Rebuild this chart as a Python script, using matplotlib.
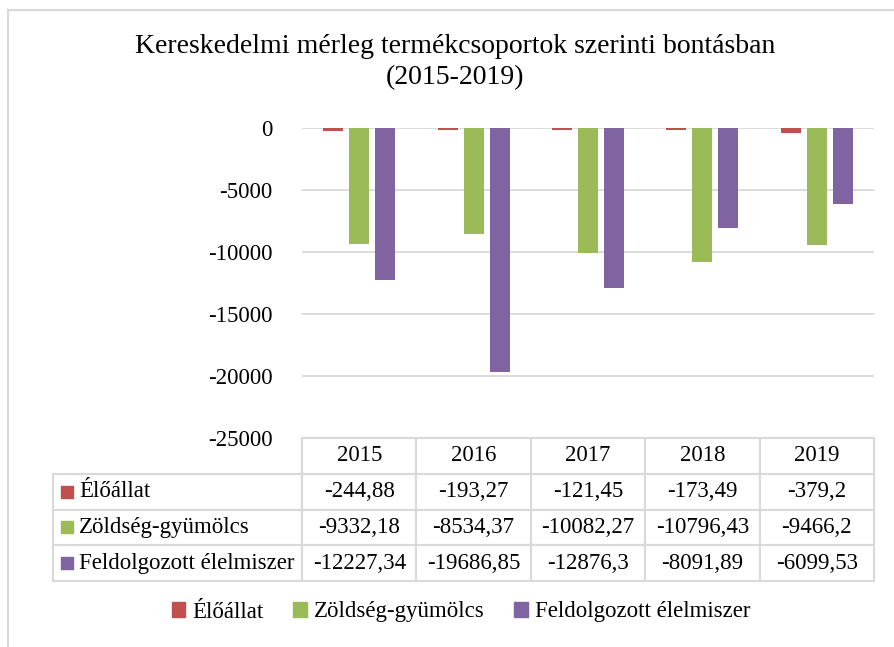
import numpy as np
import matplotlib
matplotlib.use('Agg')
import matplotlib.pyplot as plt
from matplotlib.table import Table
from matplotlib.patches import Rectangle

plt.rcParams['font.family'] = ['Liberation Serif', 'DejaVu Serif']
plt.rcParams['axes.unicode_minus'] = False

years = ['2015', '2016', '2017', '2018', '2019']
series = ['Élőállat', 'Zöldség-gyümölcs', 'Feldolgozott élelmiszer']
elo = [-244.88, -193.27, -121.45, -173.49, -379.2]
zold = [-9332.18, -8534.37, -10082.27, -10796.43, -9466.2]
feld = [-12227.34, -19686.85, -12876.3, -8091.89, -6099.53]
colors = ['#C0504D', '#9BBB59', '#8064A2']

W, H = 895, 647
fig = plt.figure(figsize=(W / 100, H / 100), dpi=100)

def box(x0, y0, x1, y1):
    # pixel box (top-left origin) -> figure fraction rect
    return [x0 / W, 1 - y1 / H, (x1 - x0) / W, (y1 - y0) / H]

# chart border
fig.patches.append(Rectangle((8 / W, -0.1), 1.2, 1 - 10 / H + 0.1,
                             transform=fig.transFigure, fill=False,
                             edgecolor='#D9D9D9', lw=1.5))

fig.text(455 / W, 1 - 62 / H, 'Kereskedelmi mérleg termékcsoportok szerinti bontásban\n(2015-2019)',
         ha='center', va='center', fontsize=20, linespacing=1.35)

ax = fig.add_axes(box(302, 128, 874, 438))
x = np.arange(len(years))
bw = 0.175
off = 0.227
for i, (vals, c) in enumerate(zip([elo, zold, feld], colors)):
    ax.bar(x + (i - 1) * off, vals, bw, color=c, zorder=3)
ax.set_xlim(-0.5, len(years) - 0.5)
ax.set_ylim(-25000, 0)
ax.set_yticks(np.arange(-25000, 1, 5000))
ax.yaxis.grid(True, color='#D9D9D9', lw=1.3, zorder=0)
ax.set_xticks([])
ax.tick_params(axis='y', length=0, labelsize=16.5, pad=21)
for s in ax.spines.values():
    s.set_visible(False)

# data table
tax = fig.add_axes(box(53, 438, 874, 581))
tax.set_axis_off()
tax.set_xlim(0, 1)
tax.set_ylim(0, 1)
tbl = Table(tax, bbox=None)
lw_ = 249 / 821
cw = (1 - lw_) / len(years)
rh = 0.25
for j, yr in enumerate(years):
    c = tbl.add_cell(0, j + 1, width=cw, height=rh, text=yr, loc='center')
    c.set_edgecolor('#D9D9D9')
    c.set_linewidth(1.5)
for i, (name, vals) in enumerate(zip(series, [elo, zold, feld])):
    c = tbl.add_cell(i + 1, 0, width=lw_, height=rh, text=name, loc='left')
    c.set_edgecolor('#D9D9D9')
    c.set_linewidth(1.5)
    c.PAD = 0.105
    for j, v in enumerate(vals):
        c = tbl.add_cell(i + 1, j + 1, width=cw, height=rh,
                         text=str(v).replace('.', ','), loc='center')
        c.set_edgecolor('#D9D9D9')
        c.set_linewidth(1.5)
tbl.auto_set_font_size(False)
tbl.set_fontsize(16.5)
tbl._bbox = [0, 0, 1, 1]
tax.add_table(tbl)
for i, c in enumerate(colors):
    tax.scatter([14 / 821], [1 - rh * (i + 1.5)], marker='s', s=80, color=c,
                transform=tax.transAxes, clip_on=False)

handles = [Rectangle((0, 0), 1, 1, color=c) for c in colors]
fig.legend(handles, series, loc='center', bbox_to_anchor=(461 / W, 1 - 612 / H),
           ncol=3, frameon=False, fontsize=16.5, handlelength=0.6, handleheight=0.6,
           handletextpad=0.3, columnspacing=1.3)

fig.savefig('out.png', dpi=100)
